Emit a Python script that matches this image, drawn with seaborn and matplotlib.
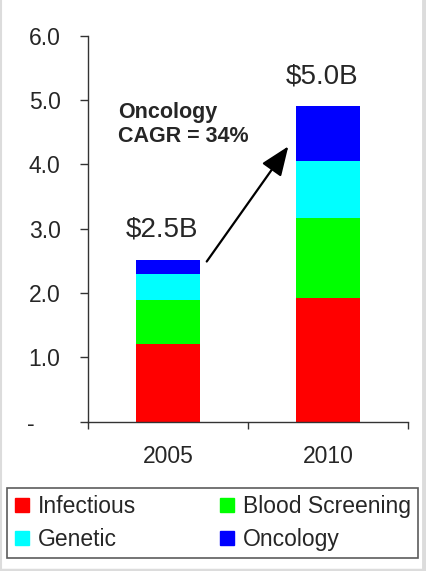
import matplotlib
matplotlib.use("Agg")
import matplotlib.pyplot as plt
from matplotlib.lines import Line2D
import seaborn as sns
import pandas as pd
import numpy as np

# Data ($B)
years = ["2005", "2010"]
segments = ["Infectious", "Blood Screening", "Genetic", "Oncology"]
infectious = [1.21, 1.93]
blood_screening = [0.68, 1.24]
genetic = [0.40, 0.88]
oncology = [0.22, 0.86]
totals_text = ["$2.5B", "$5.0B"]
colors = {"Infectious": "#ff0000", "Blood Screening": "#00ff00",
          "Genetic": "#00ffff", "Oncology": "#0000ff"}

sns.set_theme(style="white")
plt.rcParams["font.family"] = ["Liberation Sans", "DejaVu Sans"]

df = pd.DataFrame({"year": years, "Infectious": infectious,
                   "Blood Screening": blood_screening,
                   "Genetic": genetic, "Oncology": oncology})
cum = df[segments].cumsum(axis=1)
cum["year"] = df["year"]

fig = plt.figure(figsize=(4.27, 5.71), dpi=100)
ax = fig.add_axes([88 / 427, 1 - 421.7 / 571, 320 / 427, (421.7 - 35.7) / 571])

# stacked bars: draw the cumulative tops from the highest layer down
for seg in reversed(segments):
    sns.barplot(data=cum, x="year", y=seg, color=colors[seg], width=0.4,
                saturation=1, ax=ax, edgecolor="none", linewidth=0)

ax.set_xlim(-0.5, 1.5)
ax.set_ylim(0, 6)
ax.set_xlabel("")
ax.set_ylabel("")

# y axis ticks
ax.set_yticks(np.arange(0, 7, 1.0))
ax.set_yticklabels(["-    "] + [f"{v:.1f}" for v in range(1, 7)])
ax.tick_params(axis="y", direction="out", length=5.8, width=1, color="#333333",
               pad=14, labelsize=16.5, left=True)

# x axis: boundary ticks, labels centred on the bars
ax.set_xticks([-0.5, 0.5, 1.5])
ax.set_xticklabels([])
ax.set_xticks([0, 1], minor=True)
ax.set_xticklabels(years, minor=True)
ax.tick_params(axis="x", which="major", direction="out", length=5, width=1,
               color="#333333", bottom=True)
ax.tick_params(axis="x", which="minor", length=0, pad=17, labelsize=16.5)

sns.despine(ax=ax)
for s in ["left", "bottom"]:
    ax.spines[s].set_color("#333333")
    ax.spines[s].set_linewidth(1)

# total labels
ax.text(-0.04, 2.88, totals_text[0], ha="center", va="baseline", fontsize=20)
ax.text(0.96, 5.26, totals_text[1], ha="center", va="baseline", fontsize=20)

# CAGR annotation
ax.text(-0.31, 4.72, "Oncology", ha="left", va="baseline", fontsize=15.5,
        fontweight="bold")
ax.text(-0.31, 4.34, "CAGR = 34%", ha="left", va="baseline", fontsize=15.5,
        fontweight="bold")
ax.annotate("", xy=(0.752, 4.28), xytext=(0.242, 2.49),
            arrowprops=dict(arrowstyle="-|>,head_length=1.8,head_width=0.72",
                            mutation_scale=10, lw=1.6, color="black",
                            shrinkA=0, shrinkB=0))

# legend, filled row by row (matplotlib fills columns first)
order = ["Infectious", "Genetic", "Blood Screening", "Oncology"]
handles = [Line2D([], [], marker="s", linestyle="none", markersize=10.5,
                  markerfacecolor=colors[s], markeredgecolor=colors[s])
           for s in order]
leg = fig.legend(handles, order, ncol=2, loc="lower left",
                 bbox_to_anchor=(7.3 / 427, 1 - 558.3 / 571),
                 fontsize=16.5, frameon=True, fancybox=False,
                 handlelength=0.7, handletextpad=0.35, labelspacing=0.45,
                 columnspacing=3.6, borderpad=0.3, borderaxespad=0)
leg.get_frame().set_edgecolor("#333333")
leg.get_frame().set_linewidth(1.2)

# light grey picture border
border = "#dcdcdc"
fig.add_artist(Line2D([1 / 427, 1 / 427], [0, 1], transform=fig.transFigure,
                      color=border, lw=1.5))
fig.add_artist(Line2D([424.5 / 427, 424.5 / 427], [0, 1], transform=fig.transFigure,
                      color=border, lw=3.5))
fig.add_artist(Line2D([0, 1], [1.5 / 571, 1.5 / 571], transform=fig.transFigure,
                      color=border, lw=2.5))

fig.savefig("out.png", dpi=100)
